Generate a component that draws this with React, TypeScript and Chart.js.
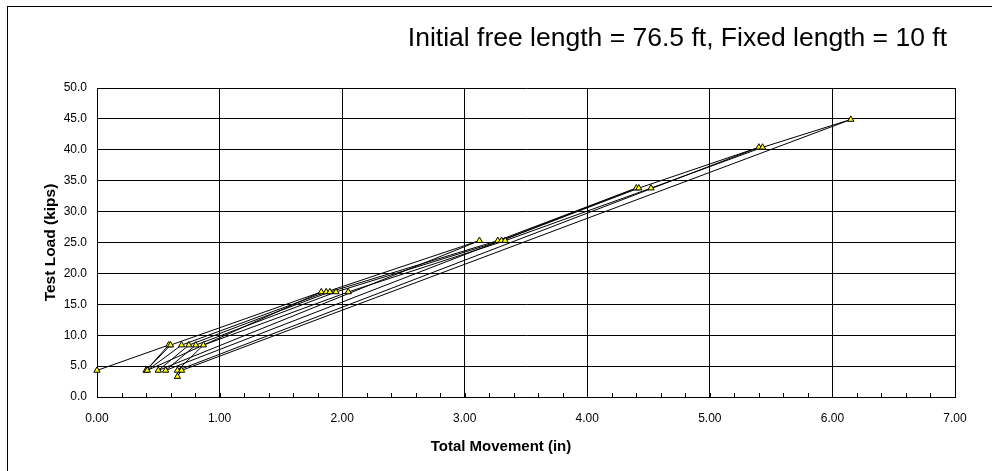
import React, { useEffect, useRef } from "react";
import { Chart, registerables } from "chart.js";

Chart.register(...registerables);

// Sequence of readings (load cycles), in test order
const movementIn = [
  0.0, 0.585, 0.4,
  0.6, 1.83, 0.41,
  0.69, 1.87, 3.12, 0.5,
  0.75, 1.9, 3.27, 4.4, 0.56,
  0.806, 1.95, 3.3, 4.42, 5.4, 0.656,
  0.868, 2.05, 3.33, 4.52, 5.43, 6.15, 0.69, 0.656,
];
const testLoadKips = [
  4.3, 8.4, 4.3,
  8.4, 17.0, 4.3,
  8.4, 17.0, 25.3, 4.3,
  8.4, 17.0, 25.3, 33.8, 4.3,
  8.4, 17.0, 25.3, 33.8, 40.4, 4.3,
  8.4, 17.0, 25.3, 33.8, 40.4, 44.9, 4.3, 3.3,
];

const xTickValues = [0, 1, 2, 3, 4, 5, 6, 7];
const yTickValues = [0, 5, 10, 15, 20, 25, 30, 35, 40, 45, 50];
const xMinorStep = 0.2;

const titleText = "Initial free length = 76.5 ft, Fixed length = 10 ft";
const xAxisTitle = "Total Movement (in)";
const yAxisTitle = "Test Load (kips)";

const FONT = "'Liberation Sans', Arial, sans-serif";

export default function App() {
  const ref = useRef<HTMLCanvasElement>(null);

  useEffect(() => {
    if (!ref.current) return;

    const decor = {
      id: "decor",
      beforeDraw(chart: any) {
        const ctx = chart.ctx;
        ctx.save();
        ctx.fillStyle = "#ffffff";
        ctx.fillRect(0, 0, chart.width, chart.height);
        ctx.restore();
      },
      afterDraw(chart: any) {
        const ctx = chart.ctx;
        const { right, top, bottom } = chart.chartArea;
        const xs = chart.scales.x;
        ctx.save();
        // outer frame
        ctx.strokeStyle = "#000";
        ctx.lineWidth = 1;
        ctx.strokeRect(7.5, 6.5, 1200, 1200);
        // minor ticks on x axis (inside)
        ctx.beginPath();
        const xMax = xTickValues[xTickValues.length - 1];
        for (let i = 0; i * xMinorStep <= xMax + 1e-9; i++) {
          const px = Math.round(xs.getPixelForValue(i * xMinorStep)) + 0.5;
          ctx.moveTo(px, bottom);
          ctx.lineTo(px, bottom - 4);
        }
        ctx.stroke();
        // title
        ctx.fillStyle = "#000";
        ctx.font = `26.5px ${FONT}`;
        ctx.textAlign = "right";
        ctx.textBaseline = "middle";
        ctx.fillText(titleText, right - 8, 39);
        // x axis title
        ctx.textAlign = "center";
        ctx.font = `bold 15px ${FONT}`;
        ctx.fillText(xAxisTitle, 501, 447);
        // y axis title
        ctx.font = `bold 15.5px ${FONT}`;
        ctx.translate(51, (top + bottom) / 2);
        ctx.rotate(-Math.PI / 2);
        ctx.fillText(yAxisTitle, 0, 0);
        ctx.restore();
      },
    };

    const chart = new Chart(ref.current, {
      type: "scatter",
      data: {
        datasets: [
          {
            data: movementIn.map((x, i) => ({ x, y: testLoadKips[i] })),
            showLine: true,
            borderColor: "#000000",
            borderWidth: 1,
            tension: 0,
            pointStyle: "triangle",
            pointRadius: 3.6,
            pointHoverRadius: 3.6,
            pointBackgroundColor: "#FFFF00",
            pointBorderColor: "#000000",
            pointBorderWidth: 1,
            clip: false as any,
          },
        ],
      },
      options: {
        responsive: false,
        animation: false,
        events: [],
        layout: { padding: { left: 0, top: 88, right: 37, bottom: 0 } },
        plugins: {
          legend: { display: false },
          tooltip: { enabled: false },
          title: { display: false },
        },
        scales: {
          x: {
            type: "linear",
            min: xTickValues[0],
            max: xTickValues[xTickValues.length - 1],
            afterFit(scale: any) {
              scale.height = 74;
            },
            afterBuildTicks(scale: any) {
              scale.ticks = xTickValues.map((v) => ({ value: v }));
            },
            ticks: {
              callback: (v: any) => Number(v).toFixed(2),
              font: { family: FONT, size: 12 },
              color: "#000",
              padding: 14,
              maxRotation: 0,
              autoSkip: false,
            },
            grid: { color: "#000", lineWidth: 1, drawTicks: false },
            border: { display: true, color: "#000", width: 1 },
          },
          y: {
            type: "linear",
            min: yTickValues[0],
            max: yTickValues[yTickValues.length - 1],
            afterFit(scale: any) {
              scale.width = 97;
            },
            afterBuildTicks(scale: any) {
              scale.ticks = yTickValues.map((v) => ({ value: v }));
            },
            ticks: {
              callback: (v: any) => Number(v).toFixed(1),
              font: { family: FONT, size: 12 },
              color: "#000",
              padding: 10,
              autoSkip: false,
            },
            grid: { color: "#000", lineWidth: 1, drawTicks: false },
            border: { display: true, color: "#000", width: 1 },
          },
        },
      },
      plugins: [decor],
    });

    return () => chart.destroy();
  }, []);

  return (
    <div style={{ position: "absolute", left: 0, top: 0, width: 992, height: 471 }}>
      <canvas ref={ref} width={992} height={471} style={{ display: "block", width: 992, height: 471 }} />
    </div>
  );
}
